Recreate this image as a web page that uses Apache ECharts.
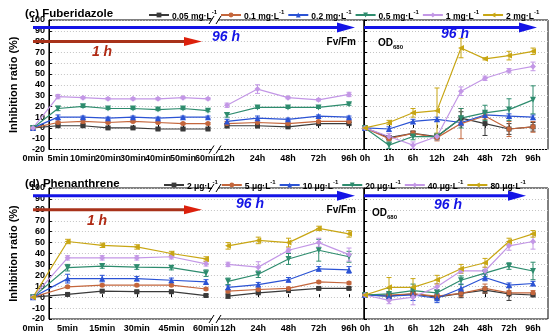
<!DOCTYPE html>
<html><head><meta charset="utf-8">
<script src="https://cdn.jsdelivr.net/npm/echarts@6/dist/echarts.min.js"></script>
<style>html,body{margin:0;padding:0;background:#fff}#c{width:550px;height:335px}</style>
</head><body><div id="c"></div>
<script>
// ---------- categories ----------
const cMinCats = ['0min','5min','10min','20min','30min','40min','50min','60min'];
const dMinCats = ['0min','5min','15min','30min','45min','60min'];
const hrCats = ['12h','24h','48h','72h','96h'];
const odCats = ['0h','1h','6h','12h','24h','48h','72h','96h'];
const yMin = -20, yMax = 100, yStep = 10;

// ---------- series names ----------
const cNames = ['0.05 mg·L⁻¹','0.1 mg·L⁻¹','0.2 mg·L⁻¹','0.5 mg·L⁻¹','1 mg·L⁻¹','2 mg·L⁻¹'];
const dNames = ['2 μg·L⁻¹','5 μg·L⁻¹','10 μg·L⁻¹','20 μg·L⁻¹','40 μg·L⁻¹','80 μg·L⁻¹'];

// ---------- (c) Fuberidazole ----------
const cMinVals = [
  [0,2,2,0,0,-1,-1,-1],
  [0,5,6,5,6,5,4,4],
  [0,10,10,9,10,9,10,10],
  [0,18,20,18,18,17,18,16],
  [0,29,28,27,27,27,28,27],
  null];
const cMinErrs = [
  [0,1,1,1,1,1,1,1],
  [0,1,2,1,1,1,1,1],
  [0,2,1,1,1,1,1,1],
  [0,2,1,1,1,1,1,1],
  [0,2,1,1,1,1,1,1],
  null];
const cHrVals = [
  [2,2,1,4,4],
  [4,5,4,6,6],
  [6,9,8,11,10],
  [12,19,19,19,22],
  [21,36,28,26,31],
  null];
const cHrErrs = [
  [2,2,1,1,1],
  [2,2,1,1,1],
  [2,2,1,1,1],
  [2,1,1,1,1],
  [2,4,1,1,2],
  null];
const cOdVals = [
  [0,-9,-5,-8,9,4,-1,1],
  [0,-10,-5,-9,4,11,-1,1],
  [0,-1,6,8,5,12,11,10],
  [0,-16,-8,-8,9,14,17,26],
  [0,-8,-16,-8,34,46,53,57],
  [0,5,14,16,74,64,67,71]];
const cOdErrs = [
  [0,2,2,2,6,11,5,4],
  [0,2,2,3,14,3,7,5],
  [0,2,2,2,3,2,2,2],
  [0,3,3,3,9,7,10,13],
  [0,3,3,3,4,2,2,4],
  [0,2,4,21,9,1,4,3]];

// ---------- (d) Phenanthrene ----------
const dMinVals = [
  [0,2.5,5.5,5,5,1.5],
  [0,9.5,11,11,11,7.5],
  [0,17,17,17,15.5,14],
  [0,27,28.5,27.5,27,22],
  [0,36,36,36,37,30.5],
  [0,51,47.5,46,40,35]];
const dMinErrs = [
  [0,1,1,1,1,1],
  [0,1,1,1,1,1],
  [0,4,3,2,2,2],
  [0,3,2,2,2,3],
  [0,2,2,2,2,2],
  [0,2,2,2,2,2]];
const dHrVals = [
  [1,4,6,8,8],
  [5.5,7,8,14,13],
  [9,11.5,16,26,25],
  [14.5,21,35,43,37],
  [30,27.5,43,50,39],
  [47,52,50,63,58]];
const dHrErrs = [
  [2,1,1,1,1],
  [1,1,1,1,1],
  [2,2,2,2,3],
  [3,3,5,10,5],
  [2,5,2,4,6],
  [3,3,4,2,3]];
const dOdVals = [
  [2,1,3,0,3.5,6.5,3,2],
  [2,2,3,1,3.5,8,4,4],
  [2,1,2,-1,8,18,11,12.5],
  [2,3,6,4,15.5,22,28.5,24],
  [2,-3,0,9.5,24,24,47,51],
  [2,9,9,16,26,31.5,51,58]];
const dOdErrs = [
  [1,2,2,2,4,3,6,1],
  [1,2,2,2,3,4,2,2],
  [1,3,5,4,4,3,2,2],
  [1,5,6,3,4,3,3,8],
  [1,3,7,3,2,3,4,7],
  [1,9,8,4,4,4,3,3]];

// ---------- styles ----------
const FONT = '"Liberation Sans", Arial, sans-serif';
const colors = ['#3a3a3a','#c4663c','#2b53d4','#2e8c6e','#c397e6','#c8a614'];
const symbols = ['rect','circle','triangle','path://M0,0L10,0L5,10Z','diamond','path://M0,5L10,0L10,10Z'];
const symSizes = [5,5,6,6,6,6];

const chart = echarts.init(document.getElementById('c'), null, {renderer:'canvas'});

// grid layout (frames + data sections)
const panels = [
  {top:20, height:129.5, names:cNames,
   secs:[{cats:cMinCats, vals:cMinVals, errs:cMinErrs, left:33, width:175},
         {cats:hrCats, vals:cHrVals, errs:cHrErrs, left:227, width:122},
         {cats:odCats, vals:cOdVals, errs:cOdErrs, left:365, width:168}]},
  {top:188, height:131, names:dNames,
   secs:[{cats:dMinCats, vals:dMinVals, errs:dMinErrs, left:33, width:173},
         {cats:hrCats, vals:dHrVals, errs:dHrErrs, left:228, width:121},
         {cats:odCats, vals:dOdVals, errs:dOdErrs, left:365, width:168}]}
];

const grid = [], xAxis = [], yAxis = [], series = [];
const axisLabelStyle = {fontSize:9, fontWeight:'bold', color:'#000', fontFamily:FONT};
const splitLine = {show:true, lineStyle:{color:'#c4c4c4', type:[1,2], width:1}};

panels.forEach((p, pi) => {
  // frame left
  let gi = grid.length;
  grid.push({left:33, top:p.top, width:331, height:p.height, show:true, borderColor:'#000', borderWidth:1, backgroundColor:'transparent'});
  xAxis.push({gridIndex:gi, type:'value', show:false, min:0, max:1});
  yAxis.push({gridIndex:gi, type:'value', min:yMin, max:yMax, interval:yStep,
    axisLine:{show:true, lineStyle:{color:'#000', width:1}},
    axisTick:{show:true, inside:true, length:3, lineStyle:{color:'#000'}},
    axisLabel:Object.assign({margin:4}, axisLabelStyle),
    splitLine,
    name:'Inhibition ratio (%)', nameLocation:'middle', nameGap:21,
    nameTextStyle:{fontSize:11, fontWeight:'bold', color:'#000', fontFamily:FONT}});
  // frame right
  gi = grid.length;
  grid.push({left:364, top:p.top, width:184, height:p.height, show:true, borderColor:'#000', borderWidth:1, backgroundColor:'transparent'});
  xAxis.push({gridIndex:gi, type:'value', show:false, min:0, max:1});
  yAxis.push({gridIndex:gi, type:'value', min:yMin, max:yMax, interval:yStep,
    axisLine:{show:true, lineStyle:{color:'#000', width:1}},
    axisTick:{show:true, inside:true, length:3, lineStyle:{color:'#000'}},
    axisLabel:{show:false}, splitLine});
  // data sections
  p.secs.forEach((s) => {
    const g = grid.length;
    grid.push({left:s.left, top:p.top, width:s.width, height:p.height});
    xAxis.push({gridIndex:g, type:'category', data:s.cats, boundaryGap:false,
      axisLine:{show:false},
      axisTick:{show:true, inside:true, length:3, interval:0, lineStyle:{color:'#000'}},
      axisLabel:Object.assign({margin:5, interval:0}, axisLabelStyle),
      splitLine:{show:false}});
    yAxis.push({gridIndex:g, type:'value', min:yMin, max:yMax, interval:yStep, show:false, splitLine:{show:false}});
    const errData = [];
    s.vals.forEach((v, i) => {
      if (!v) return;
      series.push({type:'line', name:p.names[i], xAxisIndex:g, yAxisIndex:g, data:v,
        symbol:symbols[i], symbolSize:symSizes[i], showAllSymbol:true,
        lineStyle:{width:1.2, color:colors[i]}, itemStyle:{color:colors[i]}, z:4, animation:false});
      v.forEach((val, k) => { const e = s.errs[i][k]; if (e > 0) errData.push([k, val, e, i]); });
    });
    series.push({type:'custom', name:'err', xAxisIndex:g, yAxisIndex:g, data:errData, z:3, animation:false,
      renderItem(params, api) {
        const x = api.value(0), y = api.value(1), e = api.value(2), ci = api.value(3);
        const a = api.coord([x, y + e]), b = api.coord([x, y - e]);
        const st = {stroke:colors[ci], lineWidth:1};
        return {type:'group', children:[
          {type:'line', shape:{x1:a[0], y1:a[1], x2:b[0], y2:b[1]}, style:st},
          {type:'line', shape:{x1:a[0]-2.5, y1:a[1], x2:a[0]+2.5, y2:a[1]}, style:st},
          {type:'line', shape:{x1:b[0]-2.5, y1:b[1], x2:b[0]+2.5, y2:b[1]}, style:st}
        ]};
      }});
  });
});

function legendFor(names, left, top) {
  return {data:names, left, top, width:410, itemWidth:20, itemHeight:6, itemGap:3,
    formatter: n => '{n|' + n.replace('⁻¹','') + '}{s|-1}',
    textStyle:{fontSize:8.5, fontWeight:'bold', color:'#000', fontFamily:FONT, padding:[0,0,0,-2],
      rich:{n:{fontSize:8.5, fontWeight:'bold', fontFamily:FONT, color:'#000', lineHeight:12, verticalAlign:'bottom'},
            s:{fontSize:6, fontWeight:'bold', fontFamily:FONT, color:'#000', lineHeight:12, verticalAlign:'top'}}}};
}

chart.setOption({
  animation:false,
  backgroundColor:'#fff',
  title:[
    {text:'(c) Fuberidazole', left:20, top:3, textStyle:{fontSize:11.5, fontWeight:'bold', color:'#000', fontFamily:FONT}},
    {text:'(d) Phenanthrene', left:20, top:173, textStyle:{fontSize:11.5, fontWeight:'bold', color:'#000', fontFamily:FONT}}
  ],
  legend:[legendFor(cNames, 143, 4), legendFor(dNames, 158, 174)],
  grid, xAxis, yAxis, series
});

// ---------- annotations (arrows, labels, axis breaks) ----------
const g = [];
const BLUE = '#1414e6', RED_SHAFT = '#a8321a', RED_HEAD = '#dc200c', RED_TXT = '#b02a14';
function arrow(x0, x1, y, col, headCol, hl, hh) {
  g.push({type:'line', shape:{x1:x0, y1:y, x2:x1 - hl + 2, y2:y}, style:{stroke:col, lineWidth:3}, z:20});
  g.push({type:'polygon', shape:{points:[[x1, y], [x1 - hl, y - hh], [x1 - hl, y + hh]]}, style:{fill:headCol}, z:21});
}
function txt(t, x, y, font, fill, align) {
  g.push({type:'text', x, y, z:22, style:{text:t, font, fill, align:align||'center', verticalAlign:'middle', textAlign:align||'center', textVerticalAlign:'middle'}});
}
function brk(x, y) {
  g.push({type:'rect', shape:{x:x-3, y:y-1.5, width:6, height:3}, style:{fill:'#fff'}, z:25});
  g.push({type:'line', shape:{x1:x-6, y1:y+4, x2:x-1, y2:y-4}, style:{stroke:'#000', lineWidth:1}, z:26});
  g.push({type:'line', shape:{x1:x+1, y1:y+4, x2:x+6, y2:y-4}, style:{stroke:'#000', lineWidth:1}, z:26});
}
const tips = [{l:355, r:537}, {l:355, r:526}];
panels.forEach((p, pi) => {
  const yi = pi * 5; // frame-left y axis
  const yBlue = chart.convertToPixel({yAxisIndex:yi}, 93);
  const yRed = chart.convertToPixel({yAxisIndex:yi}, 80);
  arrow(33, tips[pi].l, yBlue, BLUE, BLUE, 18, 5);
  arrow(364, tips[pi].r, yBlue, BLUE, BLUE, 18, 5);
  arrow(33, 202, yRed, RED_SHAFT, RED_HEAD, 18, 4.5);
  txt('1 h', pi ? 97 : 102, yRed + 11, 'italic bold 14px ' + FONT, RED_TXT);
  txt('96 h', pi ? 250 : 226, yBlue + (pi ? 8 : 10), 'italic bold 14px ' + FONT, BLUE);
  txt('96 h', pi ? 448 : 455, yBlue + (pi ? 9 : 7), 'italic bold 14px ' + FONT, BLUE);
  txt('Fv/Fm', 356, p.top + 22, 'bold 10px ' + FONT, '#000', 'right');
  const odx = pi ? 372 : 378, ody = p.top + (pi ? 25 : 23);
  txt('OD', odx, ody, 'bold 10px ' + FONT, '#000', 'left');
  txt('680', odx + 15, ody + 4, 'bold 6px ' + FONT, '#000', 'left');
  brk(215, p.top);
  brk(215, p.top + p.height);
});
chart.setOption({graphic: g});
</script>
</body></html>
